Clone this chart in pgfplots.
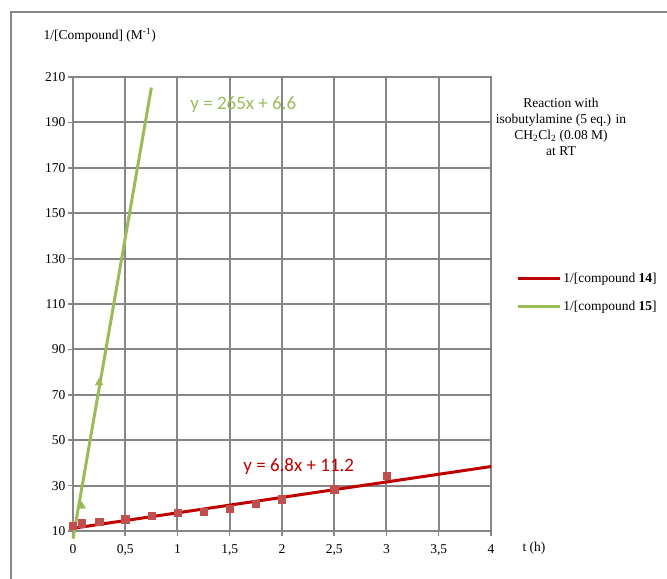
\documentclass[border=0pt]{standalone}
\usepackage{pgfplots}
\pgfplotsset{compat=1.18}
\usepackage{fontspec}
\setmainfont{Liberation Serif}
\newfontfamily\calibri{Carlito}
\definecolor{gridgray}{HTML}{868686}
\definecolor{trendred}{HTML}{C00000}
\definecolor{markred}{HTML}{C0504D}
\definecolor{olivegreen}{HTML}{9BBB59}

\begin{document}
\begin{tikzpicture}
\path[use as bounding box] (0bp,0bp) rectangle (667bp,579bp);
% chart area frame
\draw[gridgray, line width=2bp] (11bp,0bp) -- (11bp,567bp) -- (667bp,567bp);
\begin{axis}[
  scale only axis, width=418bp, height=454bp,
  at={(73bp,48bp)}, anchor=south west,
  xmin=0, xmax=4, ymin=10, ymax=210,
  xtick={0,0.5,...,4}, ytick={10,30,...,210},
  grid=major,
  grid style={gridgray, line width=2bp},
  axis line style={gridgray, line width=2bp},
  major tick style={gridgray, line width=1.5bp},
  tick align=outside, major tick length=5bp,
  xtick pos=bottom, ytick pos=left,
  tick label style={font=\fontsize{13.5bp}{16bp}\selectfont},
  xticklabel style={yshift=-5bp},
  yticklabel style={xshift=1bp},
  /pgf/number format/assume math mode=true,
  /pgf/number format/use comma,
  /pgf/number format/fixed,
  clip=false,
  legend style={at={(1.053,0.525)}, anchor=west, draw=none, fill=none,
    font=\fontsize{13.5bp}{16bp}\selectfont, row sep=13bp},
  legend cell align=left,
  legend image code/.code={\draw[#1, line width=3bp] (0bp,0bp) -- (42bp,0bp);},
]
% measured points, compound 15
\addplot[only marks, mark=triangle*, mark size=4.5bp, color=olivegreen, forget plot]
  coordinates {(0,12.5) (0.083,21.0) (0.25,75.3)};
% measured points, compound 14
\addplot[only marks, mark=square*, mark size=3.6bp, color=markred, forget plot]
  coordinates {(0,12.5) (0.083,13.4) (0.25,14.0) (0.5,15.2) (0.75,16.6)
               (1,17.9) (1.25,18.5) (1.5,20.0) (1.75,22.2) (2,24.0)
               (2.5,28.4) (3,34.2)};
% linear fits
\addplot[trendred, line width=3bp] coordinates {(0,11.2) (4,38.4)};
\addlegendentry{1/[compound \textbf{14}]}
\addplot[olivegreen, line width=3bp] coordinates {(0,6.6) (0.75,205.35)};
\addlegendentry{1/[compound \textbf{15}]}
\node[font=\calibri\fontsize{19bp}{22bp}\selectfont, text=olivegreen]
  at (axis cs:1.63,198) {y = 265x + 6.6};
\node[font=\calibri\fontsize{19bp}{22bp}\selectfont, text=trendred]
  at (axis cs:2.16,38.6) {y = 6.8x + 11.2};
\end{axis}
\node[anchor=west, font=\fontsize{13.5bp}{16bp}\selectfont]
  at (40bp,544bp) {1/[Compound] (M\textsuperscript{-1})};
\node[font=\fontsize{13.5bp}{16bp}\selectfont] at (534bp,31bp) {t (h)};
\node[align=center, font=\fontsize{13.5bp}{16bp}\selectfont]
  at (561bp,452bp) {Reaction with\\isobutylamine (5 eq.) in\\CH\textsubscript{2}Cl\textsubscript{2} (0.08 M)\\at RT};
\end{tikzpicture}
\end{document}
